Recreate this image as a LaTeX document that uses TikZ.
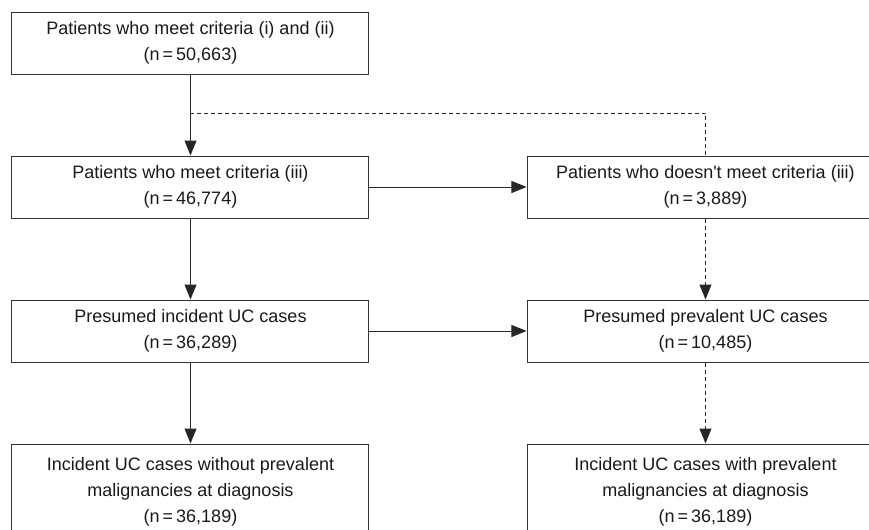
\documentclass[tikz,border=0pt]{standalone}
\usepackage{fontspec}
\setmainfont{Liberation Sans}[Ligatures=TeXOff]
\usetikzlibrary{
  arrows.meta,
  positioning,
  calc
}

\begin{document}
\begin{tikzpicture}[
  node distance=40.5pt and 78.5pt,
  every node/.style={font=\fontsize{9}{13}\selectfont, text=black!90},
  blk/.style={draw=black!80, line width=0.5pt, align=center, minimum width=178.5pt, minimum height=31pt, inner sep=2pt},
  ar/.style={-{Triangle[length=7.5pt,width=6pt]}, line width=0.5pt, draw=black!85},
  dar/.style={ar, dash pattern=on 2pt off 1.5pt}
]
  \useasboundingbox (-95.25pt,21.5pt) rectangle (339.25pt,-243.5pt);

  % left column
  \node[blk] (crit) at (0,0) {Patients who meet criteria (i) and (ii)\\(n\,=\,50,663)};
  \node[blk, below=of crit] (meet) {Patients who meet criteria (iii)\\(n\,=\,46,774)};
  \node[blk, below=of meet] (inc) {Presumed incident UC cases\\(n\,=\,36,289)};
  \node[blk, below=of inc, minimum height=48pt] (incnm) {Incident UC cases without prevalent\\malignancies at diagnosis\\(n\,=\,36,189)};

  % right column
  \node[blk, right=of meet] (nomeet) {Patients who doesn't meet criteria (iii)\\(n\,=\,3,889)};
  \node[blk, right=of inc] (prev) {Presumed prevalent UC cases\\(n\,=\,10,485)};
  \node[blk, below=of prev, minimum height=48pt] (incm) {Incident UC cases with prevalent\\malignancies at diagnosis\\(n\,=\,36,189)};

  \draw[ar] (crit) -- (meet);
  \draw[ar] (meet) -- (inc);
  \draw[ar] (inc) -- (incnm);
  \draw[ar] (meet) -- (nomeet);
  \draw[ar] (inc) -- (prev);

  % dashed branch
  \coordinate (split) at ($(crit.south)!0.48!(meet.north)$);
  \draw[dar, -] (split) -| (nomeet.north);
  \draw[dar] (nomeet) -- (prev);
  \draw[dar] (prev) -- (incm);

\end{tikzpicture}
\end{document}
